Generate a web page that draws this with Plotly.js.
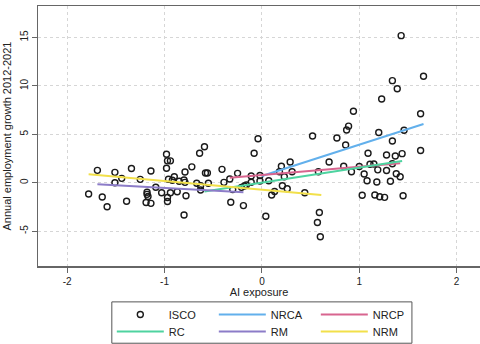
<!DOCTYPE html>
<html>
<head>
<meta charset="utf-8">
<script src="https://cdn.plot.ly/plotly-3.0.1.min.js"></script>
<style>html,body{margin:0;padding:0;background:#fff;}#chart{width:480px;height:344px;}</style>
</head>
<body>
<div id="chart"></div>
<script>
// ISCO occupations: AI exposure (x) vs annual employment growth 2012-2021 (y)
const iscoX = [-1.78,-1.69,-1.64,-1.59,-1.51,-1.51,-1.44,-1.39,-1.34,-1.25,-1.14,-1.18,-1.18,-1.17,-1.19,-1.14,-1.09,
  -1.03,-0.98,-0.97,-0.94,-0.98,-0.96,-0.97,-0.97,-0.94,-0.90,-0.92,-0.85,-0.87,-0.80,-0.79,-0.79,-0.80,-0.78,-0.72,
  -0.67,-0.64,-0.63,-0.63,-0.59,-0.58,-0.56,-0.55,-0.41,-0.39,-0.33,-0.32,-0.30,-0.25,
  -0.19,-0.21,-0.18,-0.16,-0.11,-0.11,-0.08,-0.04,-0.02,-0.02,0.04,0.07,0.10,0.13,0.18,0.20,0.23,0.21,0.26,0.29,0.31,
  0.44,0.52,0.58,0.59,0.57,0.60,0.69,
  0.77,0.86,0.87,0.89,0.84,0.92,1.00,1.03,1.05,1.08,1.09,1.11,1.15,1.16,1.19,1.18,1.21,1.26,1.20,0.94,1.23,1.28,1.28,
  1.32,1.34,1.34,1.34,1.37,1.39,1.38,1.42,1.44,1.45,1.46,1.43,1.63,1.63,1.66];
const iscoY = [-1.17,1.28,-1.48,-2.48,1.07,0.00,0.45,-1.92,1.47,0.35,1.21,-0.99,-1.20,-1.43,-2.05,-2.13,-0.46,
  -1.03,2.94,2.26,2.26,1.49,0.36,-1.53,-1.94,-1.03,0.62,0.25,0.15,-0.93,0.28,0.04,1.11,-3.34,-1.34,1.64,
  -0.06,3.04,-0.32,-0.75,3.72,1.00,1.00,-0.06,1.38,0.04,0.38,-2.02,-0.71,0.97,
  -2.36,-0.48,-0.34,-0.24,0.69,0.05,3.04,4.54,0.74,0.18,-3.46,0.21,-1.27,-0.90,1.14,1.70,0.62,-0.32,-0.62,2.14,1.14,
  -1.03,4.82,1.14,-3.08,-4.11,-5.58,2.14,
  4.62,3.89,5.44,5.84,1.70,1.14,1.67,-1.29,0.90,0.21,3.04,1.91,1.93,-1.27,1.33,0.07,-1.45,-1.51,5.19,7.38,8.65,2.86,1.26,
  0.15,10.54,4.31,1.96,2.76,9.70,0.93,0.62,3.00,-1.35,5.42,15.19,7.12,3.33,10.99];

// Fitted lines by task group (endpoints)
const nrcaX = [0.00, 1.66], nrcaY = [0.69, 6.07];
const nrcpX = [-0.33, 1.42], nrcpY = [0.52, 2.00];
const rcX   = [-0.59, 1.44], rcY   = [-0.91, 2.24];
const rmX   = [-1.69, -0.19], rmY  = [-0.17, -0.99];
const nrmX  = [-1.78, 0.61], nrmY  = [0.87, -1.27];

const xTicks = [-2, -1, 0, 1, 2];
const yTicks = [-5, 0, 5, 10, 15];

const FONT = 'Liberation Sans, Arial, Helvetica, sans-serif';
const lw = 2;

const traces = [
  {x: iscoX, y: iscoY, name: 'ISCO', mode: 'markers', type: 'scatter', legend: 'legend',
   marker: {symbol: 'circle-open', size: 6, color: '#1a1a1a', line: {width: 1.4, color: '#1a1a1a'}}},
  {x: nrcaX, y: nrcaY, name: 'NRCA', mode: 'lines', type: 'scatter', legend: 'legend', line: {color: '#62B0EC', width: lw}},
  {x: nrcpX, y: nrcpY, name: 'NRCP', mode: 'lines', type: 'scatter', legend: 'legend', line: {color: '#D8658F', width: lw}},
  {x: rcX, y: rcY, name: 'RC', mode: 'lines', type: 'scatter', legend: 'legend2', line: {color: '#4ED3A0', width: lw}},
  {x: rmX, y: rmY, name: 'RM', mode: 'lines', type: 'scatter', legend: 'legend2', line: {color: '#8C7CC8', width: lw}},
  {x: nrmX, y: nrmY, name: 'NRM', mode: 'lines', type: 'scatter', legend: 'legend2', line: {color: '#F2E04A', width: lw}}
];

const legendBase = {
  orientation: 'h', x: 0.167, xanchor: 'left', yanchor: 'top',
  borderwidth: 0, bgcolor: 'rgba(0,0,0,0)',
  font: {size: 11, color: '#222'}, entrywidth: 40, entrywidthmode: 'pixels',
  itemwidth: 47, traceorder: 'normal'
};

const layout = {
  width: 480, height: 344,
  margin: {l: 38, r: 0, t: 6, b: 78, autoexpand: false},
  paper_bgcolor: '#fff', plot_bgcolor: '#fff',
  font: {family: FONT, size: 10, color: '#222'},
  showlegend: true,
  xaxis: {
    range: [-2.30, 2.24], tickvals: xTicks, ticktext: xTicks.map(String),
    showgrid: true, gridcolor: '#d6d6d6', griddash: 'dot', gridwidth: 1,
    zeroline: false, showline: true, mirror: true, linecolor: '#666', linewidth: 1.5,
    ticks: 'outside', ticklen: 5, tickcolor: '#666', tickfont: {size: 10},
    title: {text: 'AI exposure', font: {size: 11}, standoff: 2}
  },
  yaxis: {
    range: [-8.6, 18.25], tickvals: yTicks, ticktext: yTicks.map(String),
    showgrid: true, gridcolor: '#d6d6d6', griddash: 'dot', gridwidth: 1,
    zeroline: false, showline: true, linecolor: '#666', linewidth: 1.5,
    ticks: 'outside', ticklen: 5, tickcolor: '#666', tickangle: -90, tickfont: {size: 10},
    title: {text: 'Annual employment growth 2012-2021', font: {size: 11}, standoff: 4}
  },
  legend: Object.assign({}, legendBase, {y: -0.131}),
  legend2: Object.assign({}, legendBase, {y: -0.196}),
  shapes: [{
    type: 'rect', xref: 'paper', yref: 'paper',
    x0: 0.167, x1: 0.846, y0: -0.297, y1: -0.138,
    line: {color: '#555', width: 1}, fillcolor: 'rgba(0,0,0,0)', layer: 'below'
  }]
};

Plotly.newPlot('chart', traces, layout, {staticPlot: true, displayModeBar: false});
</script>
</body>
</html>
